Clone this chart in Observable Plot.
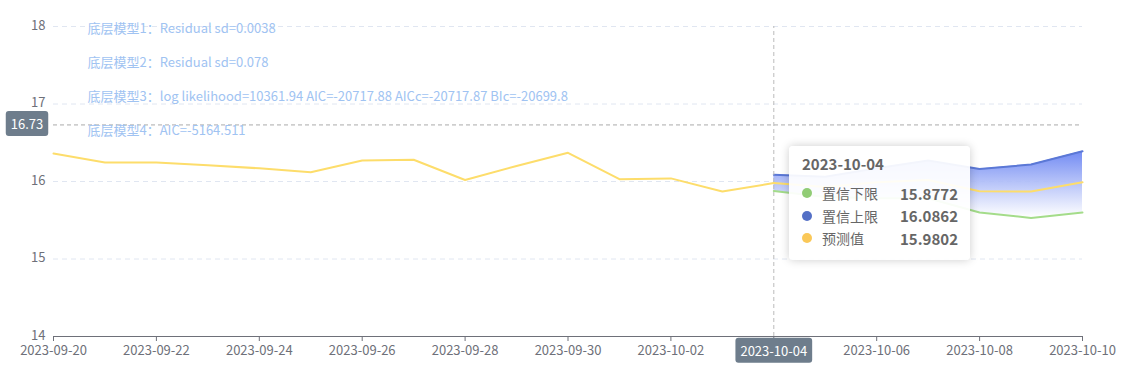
<!DOCTYPE html>
<html>
<head>
<meta charset="utf-8">
<script src="https://cdn.jsdelivr.net/npm/d3@7"></script>
<script src="https://cdn.jsdelivr.net/npm/@observablehq/plot@0.6"></script>
<style>
  html, body { margin: 0; padding: 0; background: #fff; }
  #wrap { position: relative; width: 1124px; height: 376px; font-family: "Microsoft YaHei", "Noto Sans CJK SC", "Noto Sans", sans-serif; }
  #tip { position: absolute; left: 789px; top: 146px; width: 181px; height: 114px; box-sizing: border-box;
         background: rgba(255,255,255,0.93); border-radius: 4px; box-shadow: 0 0 10px rgba(0,0,0,0.2);
         padding: 8px 12px 8px 13px; color: #666; font-size: 14px; }
  #tip .t { font-weight: bold; font-size: 15px; color: #666; line-height: 20px; margin-bottom: 8px; }
  #tip .r { display: flex; align-items: center; height: 22.5px; }
  #tip .d { width: 10px; height: 10px; border-radius: 50%; margin-right: 10px; }
  #tip .n { flex: 1; }
  #tip .v { font-weight: bold; color: #666; font-size: 15px; }
</style>
</head>
<body>
<div id="wrap"></div>
<script>
// Historical observed values
const histDates = ["2023-09-20","2023-09-21","2023-09-22","2023-09-23","2023-09-24","2023-09-25","2023-09-26","2023-09-27","2023-09-28","2023-09-29","2023-09-30","2023-10-01","2023-10-02","2023-10-03","2023-10-04"];
const histValues = [16.36,16.245,16.245,16.21,16.17,16.12,16.27,16.28,16.02,16.20,16.37,16.03,16.04,15.87,15.9802];

// Forecast
const fcDates = ["2023-10-04","2023-10-05","2023-10-06","2023-10-07","2023-10-08","2023-10-09","2023-10-10"];
const fcLower = [15.8772,15.80,15.785,15.785,15.60,15.53,15.60];
const fcUpper = [16.0862,16.06,16.17,16.27,16.16,16.22,16.39];
const fcPred  = [15.9802,15.93,15.99,16.02,15.875,15.87,15.99];

// Annotations
const notes = [
  "底层模型1：Residual sd=0.0038",
  "底层模型2：Residual sd=0.078",
  "底层模型3：log likelihood=10361.94 AIC=-20717.88 AICc=-20717.87 BIc=-20699.8",
  "底层模型4：AIC=-5164.511"
];

// Y ticks
const yTicks = [14, 15, 16, 17, 18];

// Crosshair / tooltip state
const hoverDate = "2023-10-04";
const hoverY = 16.73;
const seriesNames = ["置信下限","置信上限","预测值"];
const seriesColors = ["#91cc75","#5470c6","#fac858"];

const parse = d3.utcParse("%Y-%m-%d");
const fmt = d3.utcFormat("%Y-%m-%d");
const hist = histDates.map((d,i) => ({date: parse(d), v: histValues[i]}));
const fc = fcDates.map((d,i) => ({date: parse(d), lo: fcLower[i], hi: fcUpper[i], p: fcPred[i]}));
const xTicks = d3.utcDay.range(parse("2023-09-20"), d3.utcDay.offset(parse("2023-10-10"),1), 2);

const defs = () => {
  const g = d3.create("svg:defs");
  const lg = g.append("linearGradient").attr("id","band").attr("x1",0).attr("y1",0).attr("x2",0).attr("y2",1);
  lg.append("stop").attr("offset","0%").attr("stop-color","#6a84f2").attr("stop-opacity",0.95);
  lg.append("stop").attr("offset","100%").attr("stop-color","#ffffff").attr("stop-opacity",0.9);
  return g.node();
};

const noteMarks = notes.map((n, i) =>
  Plot.text([n], {text: d => d, frameAnchor: "top-left", dx: 34, dy: 2 + i * 34, textAnchor: "start", lineAnchor: "middle", fill: "#a0c3f2", fontSize: 13})
);

const chart = Plot.plot({
  width: 1124,
  height: 376,
  marginLeft: 53,
  marginRight: 42,
  marginTop: 26,
  marginBottom: 40,
  style: {fontFamily: "'Microsoft YaHei','Noto Sans CJK SC','Noto Sans',sans-serif", fontSize: "13px", color: "#6e7079", background: "transparent"},
  x: {type: "utc", domain: [parse("2023-09-20"), parse("2023-10-10")]},
  y: {type: "linear", domain: [14, 18]},
  marks: [
    defs,
    Plot.gridY(yTicks, {stroke: "#e0e6f1", strokeOpacity: 1, strokeDasharray: "5,4"}),
    Plot.axisY(yTicks, {tickSize: 0, tickPadding: 8, tickFormat: d3.format("d"), fill: "#6e7079", fontSize: 13, label: null, dy: -1}),
    Plot.ruleY([14], {stroke: "#6e7079"}),
    Plot.axisX(xTicks, {tickSize: 5, tickPadding: 4, tickFormat: d => fmt(d) === hoverDate ? "" : fmt(d), stroke: "#6e7079", fill: "#6e7079", fontSize: 13, label: null}),
    Plot.areaY(fc, {x: "date", y1: "lo", y2: "hi", fill: "url(#band)"}),
    Plot.line(hist, {x: "date", y: "v", stroke: "#fddd6b", strokeWidth: 2}),
    Plot.line(fc, {x: "date", y: "lo", stroke: "#a4dc8a", strokeWidth: 2}),
    Plot.line(fc, {x: "date", y: "hi", stroke: "#5b78d6", strokeWidth: 2}),
    Plot.line(fc, {x: "date", y: "p", stroke: "#fddd6b", strokeWidth: 2}),
    // crosshair
    Plot.ruleX([parse(hoverDate)], {y1: 14, y2: 18, stroke: "#bbb", strokeDasharray: "4,3"}),
    Plot.ruleY([hoverY], {x1: parse("2023-09-20"), x2: parse("2023-10-10"), stroke: "#aaa", strokeDasharray: "4,3"}),
    ...noteMarks,
    // axis pointer labels
    Plot.text([hoverY], {text: d => d.toFixed(2), y: d => d, frameAnchor: "left", dx: -26.5, fill: "#fff", fontSize: 13, textAnchor: "middle"}),
    Plot.text([parse(hoverDate)], {text: d => fmt(d), x: d => d, y: 14, dy: 15, fill: "#fff", fontSize: 13, lineAnchor: "middle"})
  ]
});

const wrap = document.getElementById("wrap");
wrap.appendChild(chart);

// pointer label backgrounds (inserted beneath the label texts)
const svg = d3.select(chart);
const texts = svg.selectAll("text").nodes();
const lblY = texts.find(t => t.textContent === hoverY.toFixed(2));
const lblX = texts.filter(t => t.textContent === hoverDate).pop();
[lblY, lblX].forEach(t => {
  if (!t) return;
  const b = t.getBBox();
  const padX = 5, padY = 3;
  const r = document.createElementNS("http://www.w3.org/2000/svg","rect");
  r.setAttribute("x", b.x - padX);
  r.setAttribute("y", b.y - padY);
  r.setAttribute("width", b.width + 2*padX);
  r.setAttribute("height", b.height + 2*padY);
  r.setAttribute("rx", 3);
  r.setAttribute("fill", "#6e7d8c");
  const tr = t.getAttribute("transform");
  if (tr) r.setAttribute("transform", tr);
  t.parentNode.insertBefore(r, t);
});

// tooltip
const idx = fcDates.indexOf(hoverDate);
const tipVals = [fcLower[idx], fcUpper[idx], fcPred[idx]];
const tip = document.createElement("div");
tip.id = "tip";
tip.innerHTML = `<div class="t">${hoverDate}</div>` + seriesNames.map((n,i) =>
  `<div class="r"><span class="d" style="background:${seriesColors[i]}"></span><span class="n">${n}</span><span class="v">${tipVals[i]}</span></div>`).join("");
wrap.appendChild(tip);
</script>
</body>
</html>
